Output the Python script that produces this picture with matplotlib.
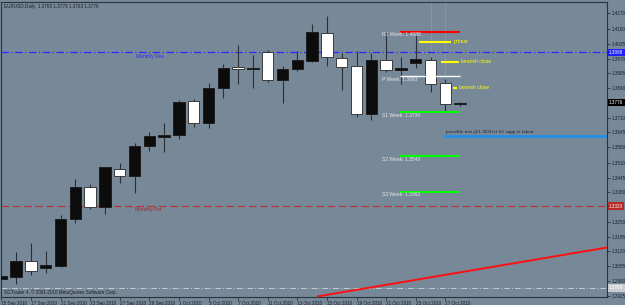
import matplotlib
matplotlib.use('Agg')
import matplotlib.pyplot as plt
import matplotlib.transforms as mtransforms

# EURUSD daily candles, 15 Sep 2010 .. 28 Oct 2010
opens  = [1.2997, 1.3008, 1.3078, 1.3048, 1.3057, 1.3263, 1.3403, 1.3314, 1.3482, 1.3454,
          1.3585, 1.3624, 1.3635, 1.3785, 1.3685, 1.3839, 1.3932, 1.3924, 1.4001, 1.3876,
          1.3924, 1.3961, 1.4084, 1.3973, 1.3938, 1.3726, 1.3964, 1.3920, 1.3952, 1.3964,
          1.3861, 1.3768]
highs  = [1.3029, 1.3119, 1.3158, 1.3122, 1.3280, 1.3439, 1.3416, 1.3494, 1.3509, 1.3597,
          1.3648, 1.3688, 1.3788, 1.3791, 1.3861, 1.3946, 1.4030, 1.3986, 1.4008, 1.3939,
          1.4004, 1.4123, 1.4159, 1.3994, 1.4004, 1.3994, 1.4088, 1.3976, 1.4074, 1.3976,
          1.3879, 1.3779]
lows   = [1.2981, 1.2975, 1.3017, 1.3026, 1.3052, 1.3247, 1.3306, 1.3285, 1.3423, 1.3379,
          1.3564, 1.3558, 1.3617, 1.3667, 1.3663, 1.3798, 1.3857, 1.3842, 1.3866, 1.3773,
          1.3916, 1.3954, 1.3938, 1.3832, 1.3714, 1.3699, 1.3911, 1.3858, 1.3930, 1.3824,
          1.3739, 1.3763]
closes = [1.3011, 1.3078, 1.3035, 1.3060, 1.3263, 1.3405, 1.3316, 1.3491, 1.3454, 1.3585,
          1.3629, 1.3635, 1.3779, 1.3685, 1.3839, 1.3929, 1.3923, 1.3930, 1.3876, 1.3924,
          1.3963, 1.4086, 1.3979, 1.3933, 1.3726, 1.3964, 1.3920, 1.3930, 1.3967, 1.3857,
          1.3769, 1.3776]

date_labels = ['15 Sep 2010', '17 Sep 2010', '21 Sep 2010', '23 Sep 2010', '27 Sep 2010',
               '29 Sep 2010', '1 Oct 2010', '5 Oct 2010', '7 Oct 2010', '11 Oct 2010',
               '13 Oct 2010', '15 Oct 2010', '19 Oct 2010', '21 Oct 2010', '25 Oct 2010',
               '27 Oct 2010']
price_ticks = [1.4170, 1.4100, 1.4035, 1.3970, 1.3905, 1.3840, 1.3710, 1.3645, 1.3580,
               1.3510, 1.3445, 1.3380, 1.3250, 1.3185, 1.3120, 1.3055, 1.2990, 1.2925]

# weekly pivots
pivot_names = ['R1 Week', 'P Week', 'S1 Week', 'S2 Week', 'S3 Week']
pivot_values = [1.4088, 1.3893, 1.3734, 1.3540, 1.3382]
pivot_colors = ['#ff0000', '#ffffff', '#00ff00', '#00ff00', '#00ff00']

# yellow notes
note_labels = ['prbear', 'bearish close', 'bearish close']
note_values = [1.4044, 1.3957, 1.3841]
note_start = [28.2, 29.7, 30.5]
note_end = [30.4, 30.9, 30.8]

monthly_res = 1.3998
monthly_pvt = 1.3320
grey_level = 1.2959
test_level = 1.3630
trend_x = [21.4, 40.86]
trend_y = [1.2922, 1.31365]

bg = '#778899'
fig = plt.figure(figsize=(6.25, 3.05), dpi=100, facecolor=bg)
ax = fig.add_axes([1.3 / 625, 1 - 297 / 305, 606 / 625, 295.5 / 305], facecolor=bg)
ax.set_xlim(0.027, 40.945)
ax.set_ylim(1.29191, 1.42220)

font = 'Liberation Sans'
fs = 3.3

# candles
for i in range(len(opens)):
    o, h, l, c = opens[i], highs[i], lows[i], closes[i]
    ax.vlines(i, l, h, color='#2b3038', lw=0.8, zorder=3)
    if c >= o:
        fill, edge = '#0c0c0c', '#1e1e1e'
    else:
        fill, edge = '#ffffff', '#3a3a3a'
    ax.bar(i, max(abs(c - o), 0.0003), bottom=min(o, c), width=0.78,
           color=fill, edgecolor=edge, linewidth=0.7, zorder=4)

# dotted vertical lines above last candles
for i in [29, 30]:
    ax.vlines(i, highs[i], 1.4222, color='#aab2bb', lw=0.6, linestyles=':', zorder=2)

# monthly levels
ax.axhline(monthly_res, color='#2a2aff', lw=0.9, ls='-.', dashes=(6, 2, 1, 2), zorder=2)
ax.text(9.1, monthly_res - 0.0008, 'Monthly Res', color='#2a2aff', fontsize=3.6,
        family=font, va='top')
ax.axhline(monthly_pvt, color='#b03a3a', lw=0.9, ls='--', dashes=(6, 3), zorder=2)
ax.text(9.0, monthly_pvt - 0.0002, 'Monthly Pvt', color='#a02828', fontsize=3.6,
        family=font, va='top')
ax.axhline(grey_level, color='#c8ccd0', lw=0.7, ls='-.', dashes=(6, 2, 1, 2), zorder=2)

# weekly pivot lines
for name, val, col in zip(pivot_names, pivot_values, pivot_colors):
    lw = 1.0 if name == 'P Week' else 1.5
    ax.plot([26.95, 31.0], [val, val], color=col, lw=lw, solid_capstyle='butt', zorder=5)
    ax.text(25.75, val - 0.0002, '%s: %.4f' % (name, val), color='#e6e6e6',
            fontsize=3.6, family=font, va='top', zorder=6)

# yellow notes
for lab, val, s, e in zip(note_labels, note_values, note_start, note_end):
    ax.plot([s, e], [val, val], color='#ffff00', lw=1.5, solid_capstyle='butt', zorder=5)
    ax.text(e + 0.15, val, lab, color='#ffff00', fontsize=3.6, family=font,
            va='center', zorder=6)

# possible test line
ax.plot([29.93, 40.945], [test_level, test_level], color='#1e90e8', lw=2.0,
        solid_capstyle='butt', zorder=5)
ax.text(30.05, test_level + 0.0009, 'possible test @1.3620 if S1 supp is taken',
        color='#1a1a2a', fontsize=3.8, family='Liberation Serif', va='bottom')

# trend line
ax.plot(trend_x, trend_y, color='#ff1010', lw=1.4, zorder=5)

# axes styling
for s in ax.spines.values():
    s.set_color('#2a3440')
    s.set_linewidth(0.8)
ax.yaxis.tick_right()
ax.set_yticks(price_ticks)
ax.set_yticklabels(['%.4f' % v for v in price_ticks])
ax.set_xticks(list(range(0, 31, 2)))
ax.set_xticklabels(date_labels, ha='left')
ax.tick_params(axis='both', direction='out', length=2, width=0.6, color='#2a3440',
               labelsize=fs, labelcolor='#1a1f28', pad=1.2)
for t in ax.get_xticklabels() + ax.get_yticklabels():
    t.set_family(font)

# price boxes on the right scale
trans = mtransforms.blended_transform_factory(ax.transAxes, ax.transData)
boxes = [(monthly_res, '#2020ff', '#ffffff'), (closes[-1], '#000000', '#ffffff'),
         (monthly_pvt, '#b82828', '#ffffff'), (grey_level, '#c8ccd0', '#ffffff')]
for val, fc, tc in boxes:
    ax.text(1.003, val, '%.4f' % val, transform=trans, color=tc, fontsize=fs,
            family=font, va='center', ha='left', clip_on=False,
            bbox=dict(boxstyle='square,pad=0.25', facecolor=fc, edgecolor='none'))

ax.text(0.004, 0.992, 'EURUSD,Daily  1.3768 1.3779 1.3763 1.3776', transform=ax.transAxes,
        color='#1a1f28', fontsize=fs, family=font, va='top')
ax.text(0.004, 0.008, 'SGTrader 4, \u00a9 2001-2010 MetaQuotes Software Corp.',
        transform=ax.transAxes, color='#1a1f28', fontsize=fs, family=font, va='bottom')

fig.savefig('out.png', dpi=100, facecolor=bg)
